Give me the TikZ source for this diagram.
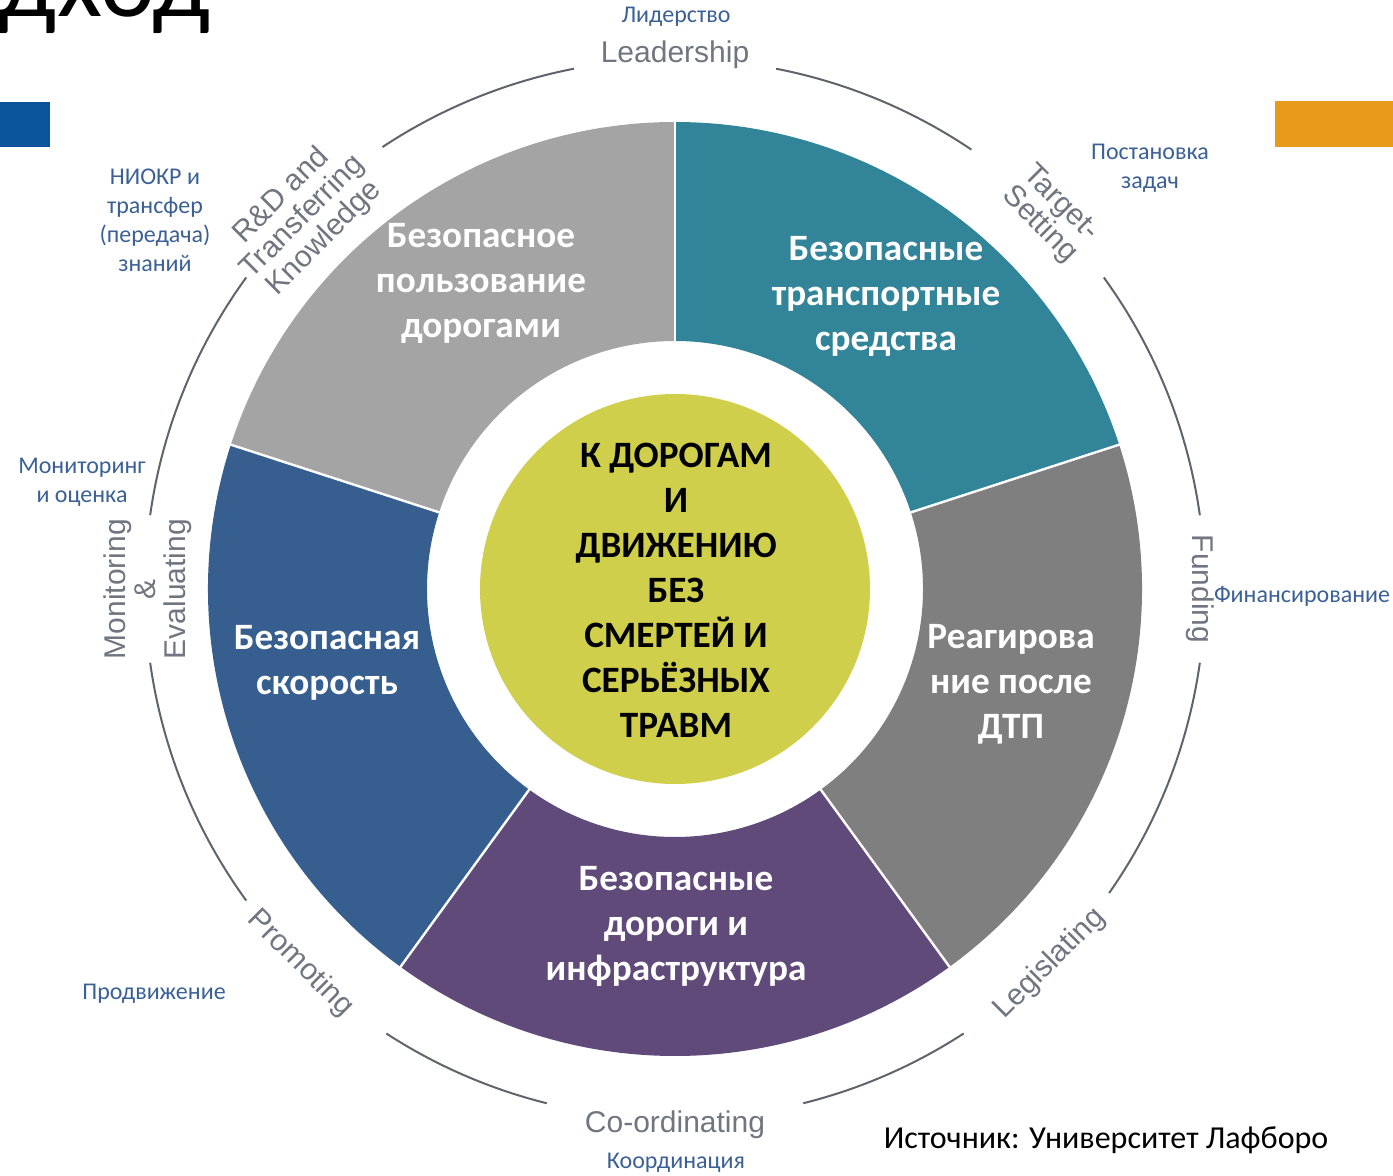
\documentclass[tikz,border=0pt]{standalone}
\usepackage{fontspec}
\setmainfont{Carlito}
\newfontfamily\arialfont{Liberation Sans}
\usetikzlibrary{calc}
\definecolor{roadgray}{RGB}{164,164,164}
\definecolor{vehteal}{RGB}{50,132,153}
\definecolor{respgray}{RGB}{127,127,127}
\definecolor{infrapurple}{RGB}{95,74,122}
\definecolor{speedblue}{RGB}{54,95,143}
\definecolor{visionlime}{RGB}{207,207,75}
\definecolor{ringgray}{RGB}{95,100,108}
\definecolor{englishgray}{RGB}{112,118,128}
\definecolor{russianblue}{RGB}{58,96,150}
\definecolor{cornerblue}{RGB}{11,84,156}
\definecolor{cornerorange}{RGB}{232,155,26}
\def\ringseg[#1](#2:#3){\fill[#1] (#2:248) arc (#2:#3:248) -- (#3:467) arc (#3:#2:467) -- cycle;}
\def\outerarc(#1:#2){\draw[ring] (#1:530) arc (#1:#2:530);}

\begin{document}
\begin{tikzpicture}[x=0.5pt, y=0.5pt,
	ring/.style={color=ringgray, line width=1pt},
	segtext/.style={text=white, font=\bfseries\fontsize{18.6}{22.5}\selectfont, align=center},
	hubtext/.style={text=black, font=\bfseries\fontsize{18.6}{22.5}\selectfont, align=center},
	englabel/.style={text=englishgray, font=\arialfont\fontsize{15}{15}\selectfont, align=center, inner sep=0},
	ruslabel/.style={text=russianblue, font=\fontsize{12}{14.5}\selectfont, align=center, inner sep=0}]
		%%%%% START %%%%%
		
		\useasboundingbox (0, 0) rectangle (1393, 1175);
		\coordinate (ctr) at (675, 586);
		
		\node[anchor=base west, inner sep=0, font=\fontsize{52}{52}\selectfont] (title) at (-2, 1158) {дход};
		\fill[cornerblue] (0, 1028) rectangle (50, 1073);
		\fill[cornerorange] (1275, 1028) rectangle (1393, 1074);
		
		\begin{scope}[shift={(ctr)}]
			\ringseg[roadgray](90:162);
			\ringseg[vehteal](18:90);
			\ringseg[respgray](-54:18);
			\ringseg[infrapurple](-126:-54);
			\ringseg[speedblue](162:234);
			\foreach \a in {90, 18, -54, -126, 162}
				\draw[white, line width=1.2pt] (\a:244) -- (\a:471);
			\fill[visionlime] (0, 0) circle (195);
			
			\outerarc(101:123.5);
			\outerarc(144:172);
			\outerarc(188:216);
			\outerarc(237:256);
			\outerarc(284:303);
			\outerarc(325:352);
			\outerarc(8:36);
			\outerarc(56:79);
			
			\node[englabel] (leadership) at (90:534) {Leadership};
			\node[englabel, rotate=-45] (targets) at (45:530) {Target-\\Setting};
			\node[englabel, rotate=-90] (funding) at (0:525) {Funding};
			\node[englabel, rotate=45] (legislating) at (-45:530) {Legislating};
			\node[englabel] (coordinating) at (-90:536) {Co-ordinating};
			\node[englabel, rotate=-45] (promoting) at (-135:530) {Promoting};
			\node[englabel, rotate=90] (monitoring) at (180:527) {Monitoring\\\&\\Evaluating};
			\node[englabel, rotate=45] (research) at (135:526) {R\&D and\\Transferring\\Knowledge};
		\end{scope}
		
		\node[segtext] (roaduse) at (481, 892) {Безопасное\\пользование\\дорогами};
		\node[segtext] (vehicles) at (886, 879) {Безопасные\\транспортные\\средства};
		\node[segtext] (response) at (1011, 491) {Реагирова\\ние после\\ДТП};
		\node[segtext] (infra) at (676, 249) {Безопасные\\дороги и\\инфраструктура};
		\node[segtext] (speed) at (327, 512) {Безопасная\\скорость};
		\node[hubtext] (vision) at (676, 585) {К ДОРОГАМ\\И\\ДВИЖЕНИЮ\\БЕЗ\\СМЕРТЕЙ И\\СЕРЬЁЗНЫХ\\ТРАВМ};
		
		\node[ruslabel] (leadru) at (676, 1158) {Лидерство};
		\node[ruslabel] (targetru) at (1150, 1007) {Постановка\\задач};
		\node[ruslabel] (fundru) at (1302, 579) {Финансирование};
		\node[ruslabel] (promru) at (154, 181) {Продвижение};
		\node[ruslabel] (coordru) at (676, 12) {Координация};
		\node[ruslabel] (monru) at (82, 693) {Мониторинг\\и оценка};
		\node[ruslabel] (resru) at (155, 955) {НИОКР и\\трансфер\\(передача)\\знаний};
		
		\node[font=\fontsize{16}{19}\selectfont, inner sep=0] (source) at (1106, 35) {Источник: Университет Лафборо};
		
		%%%%% END %%%%%
	\end{tikzpicture}
\end{document}
